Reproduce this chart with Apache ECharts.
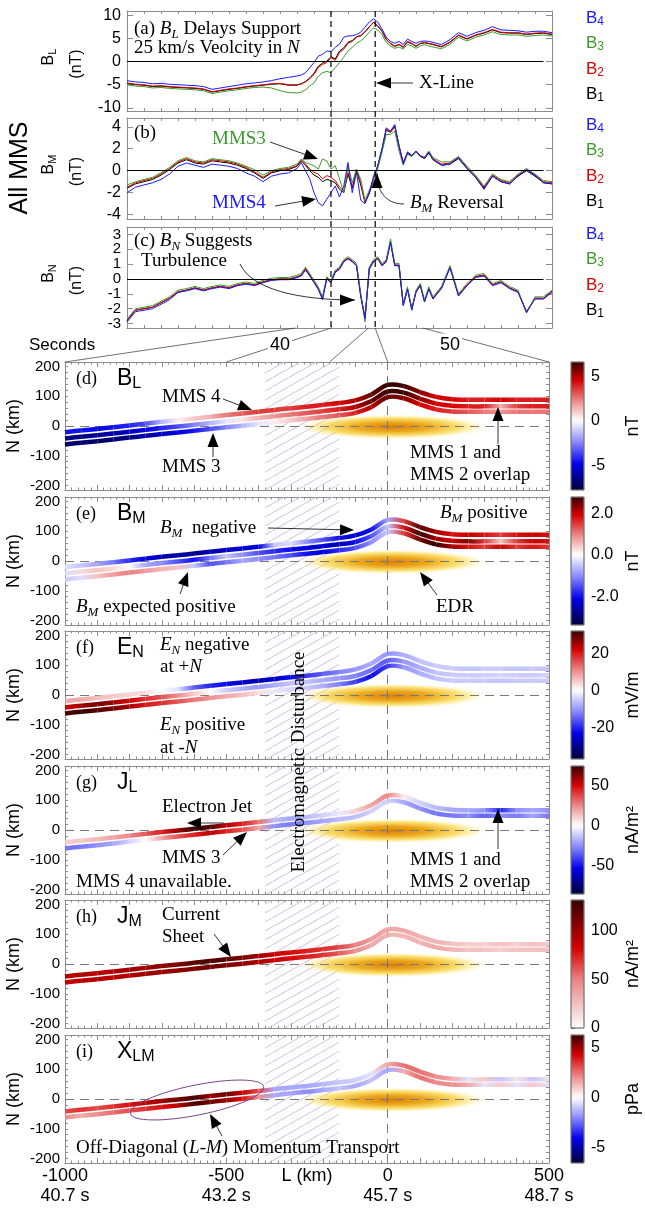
<!DOCTYPE html>
<html>
<head>
<meta charset="utf-8">
<title>MMS X-line crossing</title>
<script src="https://cdn.jsdelivr.net/npm/echarts@6.0.0/dist/echarts.min.js"></script>
<style>
  html, body { margin: 0; padding: 0; background: #ffffff; }
  #main { width: 645px; height: 1209px; }
</style>
</head>
<body>
<div id="main"></div>
<script>
// ---------------- panels (a)-(c): field time series, x = seconds ----------------
var times = [31, 31.5, 32, 32.5, 33, 33.5, 34, 34.5, 35, 35.5, 36, 36.5, 37, 37.5, 38, 38.5, 39, 39.5, 40, 40.5, 41,
  41.25, 41.5, 41.75, 42, 42.25, 42.5, 42.75, 43, 43.25, 43.5, 43.75, 44, 44.25, 44.5, 44.75, 45, 45.25, 45.5, 45.75, 46, 46.25, 46.5, 46.75, 47, 47.25, 47.5, 47.75, 48, 48.25, 48.5, 48.75, 49,
  49.5, 50, 50.5, 51, 51.5, 52, 52.5, 53, 53.5, 54, 54.5, 55, 55.5, 56];

var bL1 = [-4.7, -5.0, -5.1, -5.4, -5.3, -5.5, -5.6, -5.7, -5.8, -6.0, -6.6, -6.3, -6.0, -5.8, -5.5, -5.3, -5.1, -4.9, -4.8, -5.1, -5.1,
  -4.8, -4.3, -3.5, -2.5, -1.0, -0.3, 0.1, 1.1, 0.6, 2.3, 3.0, 4.2, 4.6, 5.4, 5.7, 6.5, 7.6, 8.5, 7.7, 6.6, 4.8, 3.9, 3.3, 3.7, 3.1, 4.3, 3.9, 3.3, 3.9, 4.1, 3.9, 3.7,
  3.2, 4.2, 5.7, 4.9, 5.7, 6.2, 6.9, 6.3, 6.2, 6.2, 5.9, 6.1, 6.2, 5.9];
var bL2 = [-4.6, -4.9, -5.0, -5.3, -5.2, -5.4, -5.5, -5.6, -5.7, -5.9, -6.5, -6.2, -5.9, -5.7, -5.4, -5.2, -5.0, -4.8, -4.7, -5.0, -5.0,
  -4.8, -4.4, -3.7, -2.8, -1.3, -0.6, -0.2, 0.9, 0.3, 2.0, 2.7, 4.0, 4.4, 5.3, 5.6, 6.4, 7.5, 8.6, 7.8, 6.7, 4.9, 4.0, 3.4, 3.8, 3.2, 4.4, 4.0, 3.4, 4.0, 4.2, 4.0, 3.8,
  3.3, 4.3, 5.8, 5.0, 5.8, 6.3, 7.0, 6.4, 6.3, 6.3, 6.0, 6.2, 6.3, 6.0];
var bL3 = [-5.0, -5.3, -5.4, -5.7, -5.6, -5.8, -5.9, -6.0, -6.1, -6.3, -6.9, -6.6, -6.3, -6.1, -5.8, -5.6, -5.5, -5.7, -6.3, -6.7, -6.8,
  -6.6, -6.1, -5.3, -4.6, -3.2, -2.4, -2.1, -2.4, -1.3, -0.2, 1.0, 2.3, 3.1, 4.0, 4.5, 5.3, 6.4, 7.3, 6.9, 5.9, 4.2, 3.4, 2.9, 3.2, 2.7, 3.8, 3.4, 2.9, 3.4, 3.7, 3.4, 3.2,
  2.8, 3.8, 5.3, 4.5, 5.3, 5.8, 6.5, 5.9, 5.8, 5.8, 5.5, 5.7, 5.8, 5.6];
var bL4 = [-4.1, -4.4, -4.5, -4.8, -4.7, -4.9, -5.0, -5.1, -5.2, -5.4, -6.0, -5.7, -5.4, -5.1, -4.8, -4.6, -4.4, -4.1, -3.7, -3.4, -3.1,
  -2.9, -2.4, -1.3, -0.2, 1.2, 1.6, 2.3, 2.2, 3.1, 3.8, 5.3, 5.6, 5.6, 5.9, 6.4, 7.5, 8.6, 9.3, 8.6, 7.1, 5.3, 4.4, 4.0, 4.4, 3.7, 4.9, 4.4, 4.0, 4.4, 4.5, 4.4, 4.2,
  3.7, 4.8, 6.3, 5.5, 6.3, 6.8, 7.6, 6.9, 6.8, 6.7, 6.4, 6.6, 6.6, 6.3];

var bM1 = [-1.6, -1.2, -1.0, -0.8, -0.4, 0.1, 0.7, 1.0, 0.7, 0.6, 0.9, 0.8, 0.7, 0.5, 0.2, -0.2, -0.7, -0.2, 0.0, 0.1, 0.4,
  0.9, 0.5, 0.0, -0.4, -0.6, -1.0, -0.8, -0.9, -1.1, -1.7, -2.0, -0.3, -1.6, 0.0, -1.3, -2.9, -2.1, -0.8, 0.4, 1.9, 3.7, 3.5, 4.0, 2.2, 0.7, 1.6, 1.3, 1.7, 1.3, 1.1, 1.6, 1.0,
  0.5, 0.6, 1.1, 0.2, -0.6, -1.6, -0.5, -1.0, -1.2, -0.5, 0.0, -0.5, -1.1, -1.2];
var bM2 = [-1.5, -1.1, -0.9, -0.7, -0.3, 0.2, 0.8, 1.1, 0.8, 0.7, 1.0, 0.9, 0.8, 0.6, 0.3, -0.1, -0.6, -0.1, 0.1, 0.2, 0.45,
  1.0, 0.6, 0.15, -0.15, -0.3, -0.75, -0.45, -0.6, -0.9, -1.5, -1.8, -0.15, -1.5, 0.15, -1.1, -2.9, -2.0, -0.75, 0.45, 2.0, 3.8, 3.5, 4.1, 2.3, 0.75, 1.7, 1.4, 1.8, 1.4, 1.2, 1.7, 1.1,
  0.6, 0.7, 1.2, 0.3, -0.5, -1.5, -0.4, -0.9, -1.1, -0.4, 0.1, -0.4, -1.0, -1.1];
var bM3 = [-1.3, -1.0, -0.8, -0.6, -0.2, 0.3, 0.9, 1.2, 0.9, 0.8, 1.1, 1.0, 0.9, 0.7, 0.4, 0.1, -0.4, 0.0, 0.2, 0.3, 0.6,
  1.06, 0.75, 0.6, 0.45, 0.15, 1.06, 0.9, 0.15, 0.45, -0.75, -2.0, 0.45, -1.1, 0.15, -0.8, -2.7, -1.8, -0.75, 0.2, 1.7, 3.3, 3.3, 3.6, 1.8, 0.5, 1.5, 1.3, 1.7, 1.3, 1.2, 1.8, 1.2,
  0.8, 0.8, 1.3, 0.4, -0.4, -1.4, -0.3, -0.8, -1.0, -0.3, 0.2, -0.3, -0.9, -1.0];
var bM4 = [-2.0, -1.5, -1.3, -1.1, -0.8, -0.3, 0.4, 0.7, 0.5, 0.3, 0.6, 0.5, 0.4, 0.2, -0.2, -0.5, -1.0, -0.5, -0.3, -0.2, 0.2,
  0.75, 0.0, -0.75, -2.0, -2.9, -3.2, -2.6, -2.0, -1.4, -2.4, -1.4, 0.75, -2.0, -0.15, -2.7, -3.0, -2.0, -0.5, 0.45, 2.0, 3.9, 3.6, 4.2, 2.3, 0.6, 1.7, 1.4, 1.8, 1.3, 1.2, 1.7, 1.0,
  0.5, 0.6, 1.2, 0.2, -0.6, -1.7, -0.5, -1.0, -1.2, -0.5, 0.1, -0.4, -1.1, -1.2];

var bN1 = [-2.8, -2.1, -2.0, -1.9, -1.6, -1.3, -0.9, -0.75, -0.6, -0.75, -0.6, -0.5, -0.6, -0.4, -0.3, -0.4, -0.2, -0.05, 0.0, 0.0, 0.1,
  0.25, 0.65, 0.25, -0.2, -0.65, -1.3, 0.05, -0.2, 0.5, 0.7, 1.2, 1.4, 1.2, 0.9, -1.1, -2.6, 0.7, 1.2, 1.4, 0.9, 1.2, 2.5, 0.9, 0.9, -1.75, -0.65, -2.0, -0.85, -0.4, -1.5, -0.65, -1.3,
  -0.6, 0.8, -1.1, -0.4, 0.15, 0.25, -0.4, -0.2, -0.6, -0.85, -2.2, -1.3, -1.3, -0.85];
var bN2 = [-2.8, -2.1, -2.0, -1.9, -1.6, -1.3, -0.85, -0.75, -0.6, -0.75, -0.6, -0.5, -0.6, -0.4, -0.3, -0.4, -0.2, -0.05, 0.0, 0.0, 0.15,
  0.27, 0.7, 0.27, -0.18, -0.63, -1.3, 0.05, -0.18, 0.5, 0.7, 1.2, 1.4, 1.2, 0.95, -1.1, -2.6, 0.7, 1.2, 1.4, 0.95, 1.2, 2.5, 0.95, 0.95, -1.75, -0.63, -2.0, -0.85, -0.4, -1.5, -0.63, -1.3,
  -0.6, 0.8, -1.1, -0.4, 0.15, 0.27, -0.4, -0.2, -0.6, -0.85, -2.2, -1.3, -1.3, -0.85];
var bN3 = [-2.7, -2.0, -1.9, -1.8, -1.5, -1.2, -0.75, -0.65, -0.5, -0.65, -0.5, -0.4, -0.5, -0.3, -0.2, -0.3, -0.1, 0.05, 0.1, 0.1, 0.25,
  0.37, 0.8, 0.37, -0.08, -0.53, -1.2, 0.15, -0.08, 0.6, 0.8, 1.3, 1.5, 1.3, 1.05, -1.0, -2.9, 0.8, 1.3, 1.5, 1.05, 1.3, 2.7, 1.05, 1.05, -1.65, -0.53, -2.1, -0.75, -0.3, -1.4, -0.53, -1.2,
  -0.5, 0.9, -1.0, -0.3, 0.25, 0.37, -0.3, -0.1, -0.5, -0.75, -2.3, -1.2, -1.2, -0.75];
var bN4 = [-2.9, -2.2, -2.1, -2.0, -1.7, -1.4, -0.9, -0.8, -0.65, -0.8, -0.65, -0.55, -0.65, -0.45, -0.35, -0.45, -0.25, -0.1, -0.05, -0.05, 0.1,
  0.2, 0.6, 0.2, -0.25, -0.7, -1.4, 0.0, -0.25, 0.45, 0.65, 1.15, 1.35, 1.15, 0.9, -1.2, -2.7, 0.65, 1.15, 1.35, 0.9, 1.15, 2.45, 0.9, 0.9, -1.8, -0.7, -2.1, -0.9, -0.45, -1.55, -0.7, -1.35,
  -0.65, 0.75, -1.15, -0.45, 0.1, 0.2, -0.45, -0.25, -0.65, -0.9, -2.25, -1.35, -1.35, -0.9];

var bLTicks = [-10, -5, 0, 5, 10];
var bMTicks = [-4, -2, 0, 2, 4];
var bNTicks = [-3, -2, -1, 0, 1, 2, 3];
var secTicks = [40, 50];
var xLineTimes = [43.0, 45.6];
// time on panel (c) -> L on panel (d)
var zoomLinks = [[40.9, -1000], [43.0, -500], [45.2, -180], [45.6, 0], [48.4, 500]];

// ---------------- panels (d)-(i): spacecraft tracks in the L-N plane ----------------
var trackL = [-1000, -950, -900, -850, -800, -750, -700, -650, -600, -550, -500, -450, -400, -350, -300, -250, -200, -150, -100, -50, 0, 50, 100, 150, 200, 250, 300, 350, 400, 450, 500];
var nMMS4  = [-21, -15, -10, -4, 2, 8, 14, 19, 25, 31, 37, 42, 48, 54, 60, 65, 71, 77, 86, 106, 138, 134, 114, 98, 90, 88, 88, 88, 88, 88, 88];
var nMMS12 = [-42, -36, -31, -25, -19, -13, -7, -2, 4, 10, 16, 21, 27, 33, 39, 44, 50, 56, 64, 84, 116, 112, 92, 75, 68, 66, 66, 66, 66, 66, 66];
var nMMS3  = [-62, -56, -51, -45, -39, -33, -27, -22, -16, -10, -4, 1, 7, 13, 19, 24, 30, 36, 44, 64, 97, 93, 73, 56, 49, 48, 48, 48, 48, 48, 48];

var dBL4  = [-4.5, -4.5, -4.8, -4.5, -4.2, -3.5, -1.5, 0.3, 1.0, 1.5, 2.5, 3.0, 3.5, 3.5, 3.5, 4.0, 4.0, 4.5, 5.0, 6.0, 7.0, 6.5, 5.5, 4.5, 4.5, 4.0, 4.0, 4.5, 4.0, 4.0, 4.0];
var dBL12 = [-6.5, -6.5, -6.3, -6.0, -5.5, -5.0, -4.2, -3.5, -2.5, -1.5, -0.5, 0.5, 1.5, 2.0, 2.5, 3.0, 3.5, 4.0, 5.0, 6.0, 7.0, 6.5, 5.5, 4.5, 4.5, 4.0, 4.0, 1.5, 3.5, 4.0, 4.0];
var dBL3  = [-7.0, -7.0, -7.0, -6.8, -6.5, -6.0, -5.5, -5.0, -4.5, -3.5, -2.5, -1.5, -0.5, 0.3, 1.0, 1.8, 2.5, 3.0, 4.0, 5.0, 6.0, 5.5, 4.5, 4.0, 3.5, 3.0, 2.5, 2.0, 2.5, 2.5, 2.5];

var eBM4  = [-0.3, -0.5, -0.8, -1.2, -1.8, -2.2, -2.5, -2.6, -2.8, -2.5, -2.4, -2.3, -2.2, -0.5, -0.3, -1.0, -1.5, -2.0, -2.3, -2.0, -0.8, 1.5, 2.6, 2.2, 1.8, 2.0, 1.8, 1.5, 1.8, 2.0, 1.8];
var eBM12 = [-0.3, 0.3, 0.5, 0.3, 0.0, -0.8, -1.0, -1.5, -2.0, -1.2, -0.5, -1.0, -1.5, -1.8, -2.0, -2.2, -2.3, -2.5, -2.0, -1.5, -0.5, 1.8, 2.8, 2.2, 2.0, 2.4, 1.5, 0.5, 1.5, 2.0, 1.8];
var eBM3  = [-0.5, -0.3, 0.5, 0.8, 1.0, 0.8, 0.6, 0.5, -0.5, -1.5, -1.2, -0.8, -1.0, -1.2, -1.5, -2.0, -2.2, -1.8, -1.5, -1.0, -0.5, 1.5, 2.5, 2.8, 2.2, 1.8, 1.5, 2.0, 1.5, 1.8, 1.5];

var fEN4  = [8, 8, 6, 5, 4, 3, 0, -3, -15, -20, -22, -25, -28, -25, -22, -18, -15, -12, -10, -8, -10, -8, -6, -5, -5, -6, -5, -5, -6, -5, -6];
var fEN12 = [22, 25, 28, 25, 22, 18, 15, 10, 5, 0, -5, -8, -10, -8, -6, -6, -8, -10, -12, -14, -15, -10, -8, -6, -5, -5, -5, -4, -5, -5, -4];
var fEN3  = [30, 32, 30, 28, 25, 20, 18, 15, 12, 10, 8, 6, 3, -2, -4, -5, -8, -12, -18, -22, -18, -10, -8, -6, -5, -5, -5, -6, -5, -5, -5];

var gJL12 = [10, 12, 15, 20, 25, 35, 45, 60, 75, 70, 55, 45, 30, -15, -20, -15, -10, -5, 10, 20, 25, 5, -10, -15, -20, -20, -25, -45, -25, -20, -25];
var gJL3  = [-30, -30, -25, -20, -10, 0, 20, 35, 45, 55, 45, 35, 20, -25, -30, -25, -20, -15, -15, -10, -10, -20, -25, -30, -30, -25, -35, -25, -30, -20, -30];

var hJM12 = [90, 95, 90, 95, 100, 100, 105, 110, 120, 125, 120, 110, 100, 85, 80, 75, 70, 65, 50, 40, 35, 35, 30, 30, 25, 20, 20, 25, 20, 25, 20];
var hJM3  = [85, 90, 95, 90, 95, 100, 100, 105, 110, 115, 110, 105, 95, 85, 80, 75, 70, 60, 45, 35, 30, 30, 30, 35, 30, 25, 25, 20, 25, 25, 25];

var iXLM12 = [3, 3.5, 3, 3.5, 4, 4.5, 5, 5.5, 6, 5, 5.5, 4.5, 3, -1.5, -1.5, -1.5, -1.2, -1.0, -0.8, -0.5, 1.5, 2.5, 2.5, 2, 1.5, -0.5, 1, -1, 0.5, -1, 0.5];
var iXLM3  = [2, 1.5, 2, 2.5, 3, 3.5, 4, 4.5, 6, 5.5, 5, 4, 2, -1.5, -1.5, -2, -1.5, -1, -1.5, -1, -1.5, 1.5, 2.5, 2, 2, 1.5, -0.5, 1, -0.5, 1, -0.5];

var lTicks = [-1000, -500, 0, 500];
var lTimeLabels = ['40.7 s', '43.2 s', '45.7 s', '48.7 s'];
var nTicks = [-200, -100, 0, 100, 200];
var nMinorTicks = [-200, -180, -160, -140, -120, -100, -80, -60, -40, -20, 0, 20, 40, 60, 80, 100, 120, 140, 160, 180, 200];
var hatchL = [-380, -150];
var edrCentre = [15, -3];
var cbD = [-5, 0, 5], cbE = [-2, 0, 2], cbF = [-20, 0, 20], cbG = [-50, 0, 50], cbH = [0, 50, 100], cbI = [-5, 0, 5];

// ---------------- styling helpers ----------------
var SANS = 'Liberation Sans, Arial, Helvetica, sans-serif';
var SERIF = 'Liberation Serif, Times New Roman, serif';
var BOX = '#8c8c8c';
var scColors = ['#000000', '#e00000', '#3d9a2a', '#1a1aff'];

var divStops = [[-1, [0, 0, 55]], [-0.62, [0, 0, 235]], [-0.3, [140, 140, 255]], [0, [255, 255, 255]], [0.3, [238, 150, 150]], [0.68, [215, 0, 0]], [1, [55, 0, 0]]];
var seqStops = [[0, [255, 255, 255]], [0.38, [232, 130, 130]], [0.62, [215, 0, 0]], [1, [55, 0, 0]]];

function colorOf(v, p) {
  var stops = p.seq ? seqStops : divStops;
  var s = p.seq ? v / p.max : (v >= 0 ? v / p.max : -v / p.min);
  s = Math.max(stops[0][0], Math.min(1, s));
  for (var k = 1; k < stops.length; k++) {
    if (s <= stops[k][0]) {
      var a = stops[k - 1], b = stops[k], f = (s - a[0]) / (b[0] - a[0]);
      return 'rgb(' + [0, 1, 2].map(function (c) { return Math.round(a[1][c] + (b[1][c] - a[1][c]) * f); }).join(',') + ')';
    }
  }
  var l = stops[stops.length - 1][1];
  return 'rgb(' + l.join(',') + ')';
}

var hatch = document.createElement('canvas');
hatch.width = 16; hatch.height = 9;
(function () {
  var c = hatch.getContext('2d');
  c.strokeStyle = '#cbb8df'; c.lineWidth = 0.9;
  c.beginPath(); c.moveTo(-1, 9.6); c.lineTo(17, -0.6); c.stroke();
})();

var grids = [], xAxes = [], yAxes = [], series = [], graphics = [];

function axis(gi, pos, o) {
  var a = {
    gridIndex: gi, type: 'value', position: pos, min: o.min, max: o.max,
    axisLine: {show: true, onZero: false, lineStyle: {color: BOX, width: 1}},
    axisTick: {show: true, inside: true, length: o.tickLen || 5, lineStyle: {color: BOX, width: 1}},
    minorTick: {show: !!o.minor, splitNumber: o.minor || 5, length: 2.5, lineStyle: {color: BOX}},
    splitLine: {show: false}, minorSplitLine: {show: false},
    axisLabel: o.label || {show: false}
  };
  if (o.interval) a.interval = o.interval;
  if (o.ticks) a.axisTick.customValues = o.ticks;
  if (o.extra) Object.keys(o.extra).forEach(function (k) { a[k] = o.extra[k]; });
  return a;
}

// ---------------- build panels (a)-(c) ----------------
var topPanels = [
  {top: 11, h: 100, min: -10.7, max: 11, ticks: bLTicks, fs: 16, data: [bL1, bL2, bL3, bL4], sub: 'L'},
  {top: 118, h: 101, min: -4.4, max: 4.8, ticks: bMTicks, fs: 16, data: [bM1, bM2, bM3, bM4], sub: 'M'},
  {top: 227, h: 101, min: -3.3, max: 3.5, ticks: bNTicks, fs: 15, data: [bN1, bN2, bN3, bN4], sub: 'N'}
];
var topX = [], topY = [];
topPanels.forEach(function (p) {
  var gi = grids.length;
  grids.push({left: 127, top: p.top, width: 425, height: p.h, containLabel: false, outerBoundsMode: 'none'});
  topX.push(xAxes.length); topY.push(yAxes.length);
  var xi = xAxes.length, yi = yAxes.length;
  xAxes.push(axis(gi, 'bottom', {min: 31, max: 56, interval: 1, tickLen: 3}));
  xAxes.push(axis(gi, 'top', {min: 31, max: 56, interval: 1, tickLen: 3}));
  yAxes.push(axis(gi, 'left', {min: p.min, max: p.max, ticks: p.ticks, tickLen: 6,
    label: {customValues: p.ticks, fontSize: p.fs, lineHeight: p.fs, color: '#000', fontFamily: SANS, margin: 6,
      hideOverlap: false, showMinLabel: true, showMaxLabel: true}}));
  yAxes.push(axis(gi, 'right', {min: p.min, max: p.max, ticks: p.ticks, tickLen: 6}));
  p.data.forEach(function (arr, s) {
    var ser = {
      type: 'line', xAxisIndex: xi, yAxisIndex: yi, silent: true, symbol: 'none', z: 3 + s,
      data: times.map(function (t, i) { return [t, arr[i]]; }),
      lineStyle: {width: 1, color: scColors[s]}, itemStyle: {color: scColors[s]}
    };
    if (s === 0) {
      ser.markLine = {silent: true, symbol: 'none', label: {show: false}, z: 8,
        lineStyle: {color: '#000', type: 'solid', width: 1.2},
        data: [[{coord: [31, 0]}, {coord: [55.5, 0]}]]};
    }
    series.push(ser);
  });
});

// ---------------- build panels (d)-(i) ----------------
var lowerPanels = [
  {tag: '(d)', q: 'B', sub: 'L', min: -7.8, max: 6.6, cb: cbD, fmt: 0, unit: 'nT', seq: false,
    tracks: [[nMMS4, dBL4], [nMMS12, dBL12], [nMMS3, dBL3]]},
  {tag: '(e)', q: 'B', sub: 'M', min: -3.4, max: 2.8, cb: cbE, fmt: 1, unit: 'nT', seq: false,
    tracks: [[nMMS4, eBM4], [nMMS12, eBM12], [nMMS3, eBM3]]},
  {tag: '(f)', q: 'E', sub: 'N', min: -37, max: 32, cb: cbF, fmt: 0, unit: 'mV/m', seq: false,
    tracks: [[nMMS4, fEN4], [nMMS12, fEN12], [nMMS3, fEN3]]},
  {tag: '(g)', q: 'J', sub: 'L', min: -86, max: 75, cb: cbG, fmt: 0, unit: 'nA/m\u00b2', seq: false,
    tracks: [[nMMS12, gJL12], [nMMS3, gJL3]]},
  {tag: '(h)', q: 'J', sub: 'M', min: 0, max: 132, cb: cbH, fmt: 0, unit: 'nA/m\u00b2', seq: true,
    tracks: [[nMMS12, hJM12], [nMMS3, hJM3]]},
  {tag: '(i)', q: 'X', sub: 'LM', min: -6.5, max: 6.2, cb: cbI, fmt: 0, unit: 'pPa', seq: false,
    tracks: [[nMMS12, iXLM12], [nMMS3, iXLM3]]}
];
var lowTops = [362, 497, 631, 766, 900, 1035];
var LOW_H = 128;
var N_MIN = -215, N_MAX = 215;
var lowX = [], lowY = [];

lowerPanels.forEach(function (p, k) {
  var top = lowTops[k];
  var last = k === lowerPanels.length - 1;
  var gi = grids.length;
  grids.push({left: 65, top: top, width: 484, height: LOW_H, containLabel: false, outerBoundsMode: 'none'});
  var xi = xAxes.length, yi = yAxes.length;
  lowX.push(xi); lowY.push(yi);
  var xLabel = last ? {
    customValues: lTicks, fontSize: 18, lineHeight: 20, margin: 3, color: '#000', fontFamily: SANS,
    formatter: function (v) { return v + '\n' + lTimeLabels[lTicks.indexOf(v)]; }
  } : null;
  xAxes.push(axis(gi, 'bottom', {min: -1000, max: 500, interval: 100, minor: 5, tickLen: 5, label: xLabel,
    extra: last ? {name: 'L (km)', nameLocation: 'middle', nameGap: 4, nameMoveOverlap: false,
      nameTextStyle: {fontSize: 18, color: '#000', fontFamily: SANS, verticalAlign: 'top'}} : {}}));
  xAxes.push(axis(gi, 'top', {min: -1000, max: 500, interval: 100, minor: 5, tickLen: 5}));
  yAxes.push(axis(gi, 'left', {min: N_MIN, max: N_MAX, ticks: nMinorTicks, tickLen: 3,
    label: {customValues: nTicks, fontSize: 15, color: '#000', fontFamily: SANS, margin: 5},
    extra: {name: 'N (km)', nameLocation: 'middle', nameGap: 42, nameRotate: 90, nameMoveOverlap: false,
      nameTextStyle: {fontSize: 18, color: '#000', fontFamily: SANS}}}));
  yAxes.push(axis(gi, 'right', {min: N_MIN, max: N_MAX, ticks: nMinorTicks, tickLen: 3}));

  // EDR blob, hatched disturbance band and dashed reference lines
  series.push({
    type: 'custom', xAxisIndex: xi, yAxisIndex: yi, z: 2, silent: true,
    data: [edrCentre],
    renderItem: function (params, api) {
      var c = api.coord([api.value(0), api.value(1)]);
      var s = api.size([580, 82]);
      return {
        type: 'circle', x: c[0], y: c[1], scaleX: s[0] / 20, scaleY: s[1] / 20,
        shape: {cx: 0, cy: 0, r: 10},
        style: {fill: {type: 'radial', x: 0.5, y: 0.5, r: 0.5, colorStops: [
          {offset: 0, color: 'rgba(220,128,8,1)'},
          {offset: 0.4, color: 'rgba(236,168,26,0.97)'},
          {offset: 0.72, color: 'rgba(248,210,55,0.7)'},
          {offset: 1, color: 'rgba(255,240,130,0)'}]}}
      };
    },
    markArea: {silent: true, itemStyle: {color: {image: hatch, repeat: 'repeat'}},
      data: [[{xAxis: hatchL[0]}, {xAxis: hatchL[1]}]]},
    markLine: {silent: true, symbol: 'none', label: {show: false},
      lineStyle: {color: '#7a7a7a', type: [9, 6], width: 1},
      data: [{yAxis: 0}, {xAxis: 0}]}
  });

  // colour-coded spacecraft tracks
  p.tracks.forEach(function (tr) {
    var nArr = tr[0], vArr = tr[1];
    series.push({
      type: 'custom', xAxisIndex: xi, yAxisIndex: yi, z: 5, silent: true,
      data: trackL.map(function (L, i) { return [L, nArr[i], vArr[i]]; }),
      renderItem: function (params, api) {
        var i = params.dataIndex, n = trackL.length;
        if (i >= n - 1) return null;
        function pt(j) { j = Math.max(0, Math.min(n - 1, j)); return api.coord([trackL[j], nArr[j]]); }
        var a = pt(i - 1), b = pt(i), c = pt(i + 1), d = pt(i + 2);
        return {
          type: 'bezierCurve',
          shape: {x1: b[0], y1: b[1], x2: c[0], y2: c[1],
            cpx1: b[0] + (c[0] - a[0]) / 6, cpy1: b[1] + (c[1] - a[1]) / 6,
            cpx2: c[0] - (d[0] - b[0]) / 6, cpy2: c[1] - (d[1] - b[1]) / 6},
          style: {fill: 'none', lineWidth: 4.5, lineCap: 'butt',
            stroke: {type: 'linear', x: b[0], y: b[1], x2: c[0] + 0.01, y2: c[1], global: true,
              colorStops: [{offset: 0, color: colorOf(vArr[i], p)}, {offset: 1, color: colorOf(vArr[i + 1], p)}]}}
        };
      }
    });
  });

  // colour bar
  var cgi = grids.length;
  grids.push({left: 571, top: top, width: 13, height: LOW_H, containLabel: false, outerBoundsMode: 'none'});
  var cxi = xAxes.length, cyi = yAxes.length;
  xAxes.push({gridIndex: cgi, type: 'value', min: 0, max: 1, show: false});
  yAxes.push({
    gridIndex: cgi, type: 'value', position: 'right', min: p.min, max: p.max,
    axisLine: {show: false}, splitLine: {show: false},
    axisTick: {show: true, customValues: p.cb, length: 4, lineStyle: {color: '#555'}},
    axisLabel: {customValues: p.cb, formatter: function (v) { return v.toFixed(p.fmt); },
      margin: 7, fontSize: 16, color: '#000', fontFamily: SANS},
    name: p.unit, nameLocation: 'middle', nameRotate: 90, nameGap: 40, nameMoveOverlap: false,
    nameTextStyle: {fontSize: 18, color: '#000', fontFamily: SANS}
  });
  var cstops = [];
  for (var j = 0; j <= 40; j++) {
    cstops.push({offset: j / 40, color: colorOf(p.max - (p.max - p.min) * j / 40, p)});
  }
  series.push({
    type: 'custom', xAxisIndex: cxi, yAxisIndex: cyi, silent: true, data: [[0.5, p.min]],
    renderItem: function (params) {
      var cs = params.coordSys;
      return {type: 'rect', shape: {x: cs.x, y: cs.y, width: cs.width, height: cs.height},
        style: {fill: {type: 'linear', x: 0, y: 0, x2: 0, y2: 1, colorStops: cstops}, stroke: '#777', lineWidth: 0.8}};
    }
  });
});

var chart = echarts.init(document.getElementById('main'), null, {renderer: 'canvas', width: 645, height: 1209});
chart.setOption({
  animation: false,
  backgroundColor: '#ffffff',
  textStyle: {fontFamily: SANS},
  grid: grids, xAxis: xAxes, yAxis: yAxes, series: series
});

// ---------------- annotations ----------------
function serifRich(fs) {
  var ss = Math.round(fs * 0.7);
  return {
    i: {fontStyle: 'italic', fontFamily: SERIF, fontSize: fs},
    s: {fontStyle: 'italic', fontFamily: SERIF, fontSize: ss, lineHeight: ss, verticalAlign: 'bottom'}
  };
}
var sansRich = {
  q: {fontFamily: SANS, fontSize: 23, lineHeight: 26},
  qs: {fontFamily: SANS, fontSize: 16, lineHeight: 14, verticalAlign: 'bottom'}
};
function txt(x, y, text, o) {
  o = o || {};
  var fs = o.size || 19;
  graphics.push({
    type: 'text', x: x, y: y, rotation: o.rot || 0, z: 120,
    style: {text: text, fill: o.color || '#000', fontSize: fs, fontFamily: o.font || SERIF,
      align: o.align || 'left', verticalAlign: 'middle', lineHeight: Math.round(fs * 1.3),
      rich: o.rich || serifRich(fs), backgroundColor: o.bg, padding: o.bg ? [0, 2] : 0}
  });
}
function head(tx, ty, ux, uy, len, hw) {
  var bx = tx - ux * len, by = ty - uy * len;
  graphics.push({type: 'polygon', z: 121,
    shape: {points: [[tx, ty], [bx - uy * hw, by + ux * hw], [bx + uy * hw, by - ux * hw]]},
    style: {fill: '#000'}});
}
function arrow(x1, y1, x2, y2, o) {
  o = o || {};
  var len = o.len || 14, hw = o.hw || 5.5;
  var dx = x2 - x1, dy = y2 - y1, d = Math.sqrt(dx * dx + dy * dy), ux = dx / d, uy = dy / d;
  graphics.push({type: 'line', z: 120, shape: {x1: x1, y1: y1, x2: x2 - ux * len * 0.7, y2: y2 - uy * len * 0.7},
    style: {stroke: '#000', lineWidth: o.lw || 0.8}});
  head(x2, y2, ux, uy, len, hw);
}
function curveArrow(x1, y1, c1x, c1y, c2x, c2y, x2, y2) {
  graphics.push({type: 'bezierCurve', z: 120,
    shape: {x1: x1, y1: y1, cpx1: c1x, cpy1: c1y, cpx2: c2x, cpy2: c2y, x2: x2, y2: y2},
    style: {stroke: '#000', lineWidth: 0.8, fill: 'none'}});
  var dx = x2 - c2x, dy = y2 - c2y, d = Math.sqrt(dx * dx + dy * dy);
  head(x2, y2, dx / d, dy / d, 15, 5.5);
}

// left titles of the time-series block
txt(20, 168, 'All MMS', {size: 25, font: SANS, rot: Math.PI / 2, align: 'center', rich: {}});
topPanels.forEach(function (p) {
  var cy = p.top + p.h / 2;
  txt(49, cy - 4, '{q|B}{qs|' + p.sub + '}', {rot: Math.PI / 2, align: 'center', font: SANS, size: 16,
    rich: {q: {fontFamily: SANS, fontSize: 16, lineHeight: 18}, qs: {fontFamily: SANS, fontSize: 11, lineHeight: 10, verticalAlign: 'bottom'}}});
  txt(77, cy + 3, '(nT)', {rot: Math.PI / 2, align: 'center', font: SANS, size: 16, rich: {}});
  var offs = [7, 32, 58, 83], idx = [4, 3, 2, 1];
  offs.forEach(function (o, j) {
    txt(586, p.top + o, '{b|B}{bs|' + idx[j] + '}', {font: SANS, size: 17, color: scColors[idx[j] - 1],
      rich: {b: {fontFamily: SANS, fontSize: 17, lineHeight: 19}, bs: {fontFamily: SANS, fontSize: 12, lineHeight: 11, verticalAlign: 'bottom'}}});
  });
});

txt(134, 29, '(a) {i|B}{s|L} Delays Support');
txt(134, 48, '25 km/s Veolcity in {i|N}');
txt(419, 83, 'X-Line');
arrow(413, 83, 376, 83, {len: 15, hw: 5.5});
txt(134, 133, '(b)');
txt(212, 139, 'MMS3', {color: '#3a9a2a'});
arrow(270, 142, 318, 159);
txt(212, 203, 'MMS4', {color: '#1a1aff'});
arrow(275, 206, 316, 199);
txt(410, 203, '{i|B}{s|M} Reversal');
curveArrow(404, 204, 388, 204, 377, 194, 377, 173);
txt(134, 241, '(c) {i|B}{s|N} Suggests');
txt(141, 261, 'Turbulence');
curveArrow(240, 264, 252, 290, 300, 300, 355, 300);

// dashed time markers and the zoom fan between the two blocks
var yTopA = chart.convertToPixel({yAxisIndex: topY[0]}, topPanels[0].max);
var yBotC = chart.convertToPixel({yAxisIndex: topY[2]}, topPanels[2].min);
xLineTimes.forEach(function (t) {
  var x = chart.convertToPixel({xAxisIndex: topX[0]}, t);
  graphics.push({type: 'line', z: 110, shape: {x1: x, y1: yTopA, x2: x, y2: yBotC},
    style: {stroke: '#000', lineWidth: 1.2, lineDash: [6, 4]}});
});
var yTopD = chart.convertToPixel({yAxisIndex: lowY[0]}, N_MAX);
zoomLinks.forEach(function (lk) {
  var x1 = chart.convertToPixel({xAxisIndex: topX[2]}, lk[0]);
  var x2 = chart.convertToPixel({xAxisIndex: lowX[0]}, lk[1]);
  graphics.push({type: 'line', z: 100, shape: {x1: x1, y1: yBotC, x2: x2, y2: yTopD},
    style: {stroke: '#333', lineWidth: 0.7}});
});
txt(27, 345, 'Seconds', {font: SANS, size: 17, rich: {}, bg: '#fff'});
secTicks.forEach(function (t) {
  txt(chart.convertToPixel({xAxisIndex: topX[2]}, t), 345, String(t), {font: SANS, size: 18, align: 'center', rich: {}, bg: '#fff'});
});

// panel tags
lowerPanels.forEach(function (p, k) {
  var y = lowTops[k] + 17;
  txt(76, y, p.tag, {size: 18});
  txt(117, y, '{q|' + p.q + '}{qs|' + p.sub + '}', {font: SANS, size: 23, rich: sansRich});
});

// (d)
txt(162, 397, 'MMS 4');
arrow(223, 399, 252, 410);
txt(162, 467, 'MMS 3');
arrow(213, 457, 213, 433);
txt(410, 453, 'MMS 1 and');
txt(410, 475, 'MMS 2 overlap');
arrow(498, 444, 498, 407);
// (e)
txt(160, 528, '{i|B}{s|M}  negative');
arrow(268, 528, 354, 530);
txt(440, 513, '{i|B}{s|M} positive');
txt(76, 607, '{i|B}{s|M} expected positive');
arrow(180, 594, 188, 572);
txt(436, 607, 'EDR');
arrow(437, 595, 420, 572);
// (f)
txt(160, 645, '{i|E}{s|N} negative');
txt(160, 667, 'at +{i|N}');
txt(160, 725, '{i|E}{s|N} positive');
txt(160, 748, 'at -{i|N}');
txt(299, 762, 'Electromagnetic Disturbance', {rot: Math.PI / 2, align: 'center'});
// (g)
txt(162, 807, 'Electron Jet');
arrow(224, 823, 187, 823);
txt(162, 858, 'MMS 3');
arrow(223, 855, 247, 832);
txt(76, 882, 'MMS 4 unavailable.');
txt(410, 860, 'MMS 1 and');
txt(410, 882, 'MMS 2 overlap');
arrow(498, 849, 498, 809);
// (h)
txt(162, 915, 'Current');
txt(162, 937, 'Sheet');
arrow(214, 934, 231, 957);
// (i)
graphics.push({type: 'ellipse', z: 115, x: 197, y: 1100, rotation: 0.2,
  shape: {cx: 0, cy: 0, rx: 68, ry: 15}, style: {fill: 'none', stroke: '#7a3d8a', lineWidth: 0.9}});
txt(76, 1148, 'Off-Diagonal ({i|L}-{i|M}) Momentum Transport');
arrow(222, 1136, 210, 1114);

chart.setOption({graphic: graphics});
</script>
</body>
</html>
